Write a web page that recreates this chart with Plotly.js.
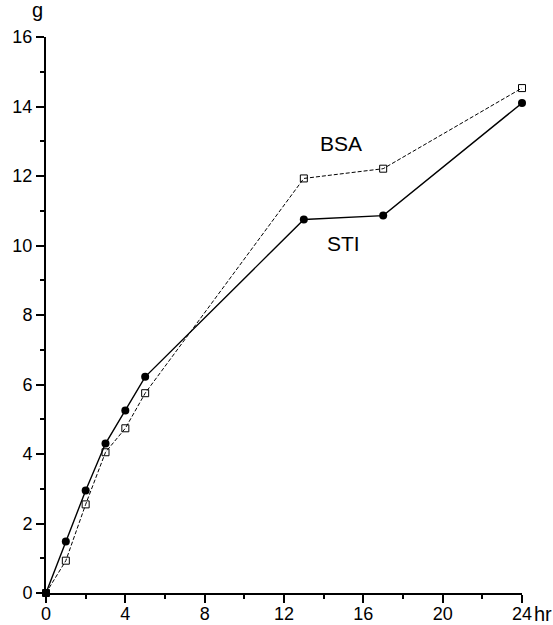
<!DOCTYPE html>
<html><head><meta charset="utf-8">
<script src="https://cdn.plot.ly/plotly-3.0.1.min.js"></script>
<style>html,body{margin:0;padding:0;background:#fff}#c{width:553px;height:625px}</style>
</head><body><div id="c"></div>
<script>
const hours = [0, 1, 2, 3, 4, 5, 13, 17, 24];
const sti = [0, 1.48, 2.95, 4.3, 5.25, 6.22, 10.75, 10.86, 14.1];
const bsa = [0, 0.93, 2.55, 4.05, 4.74, 5.75, 11.93, 12.21, 14.53];
const seriesNames = ['STI', 'BSA'];
const font = 'Liberation Sans, Arial, sans-serif';

const traces = [
  {x: hours, y: bsa, name: seriesNames[1], mode: 'lines+markers', cliponaxis: false,
   line: {color: '#000', width: 1, dash: '4px,2px'},
   marker: {symbol: 'square-open', size: 7, color: '#000', line: {width: 1}}},
  {x: hours, y: sti, name: seriesNames[0], mode: 'lines+markers', cliponaxis: false,
   line: {color: '#000', width: 1.4},
   marker: {symbol: 'circle', size: 8, color: '#000'}}
];

const axisCommon = {
  showgrid: false, zeroline: false, showline: true, linecolor: '#000', linewidth: 2,
  ticks: 'outside', ticklen: 8, tickwidth: 2, tickcolor: '#000',
  tickfont: {family: font, size: 18, color: '#000'}
};

const layout = {
  width: 553, height: 625,
  margin: {l: 46, r: 31, t: 37, b: 32},
  paper_bgcolor: '#fff', plot_bgcolor: '#fff',
  showlegend: false,
  font: {family: font, color: '#000'},
  xaxis: Object.assign({}, axisCommon, {range: [0, 24], tickmode: 'linear', tick0: 0, dtick: 4,
    ticklabelstandoff: -5,
    minor: {dtick: 2, ticks: 'outside', ticklen: 4, tickwidth: 2, tickcolor: '#000'}}),
  yaxis: Object.assign({}, axisCommon, {range: [0, 16], tickmode: 'linear', tick0: 0, dtick: 2,
    minor: {dtick: 1, ticks: 'outside', ticklen: 4, tickwidth: 2, tickcolor: '#000'}}),
  annotations: [
    {text: 'BSA', x: 14.87, y: 12.93, xref: 'x', yref: 'y', xanchor: 'center', yanchor: 'middle', showarrow: false, font: {family: font, size: 21, color: '#000'}},
    {text: 'STI', x: 15.0, y: 10.05, xref: 'x', yref: 'y', xanchor: 'center', yanchor: 'middle', showarrow: false, font: {family: font, size: 21, color: '#000'}},
    {text: 'g', x: (37 - 46) / 476, y: 1 + (37 - 10) / 556, xref: 'paper', yref: 'paper', xanchor: 'center', yanchor: 'middle', showarrow: false, font: {family: font, size: 20, color: '#000'}},
    {text: 'hr', x: (543 - 46) / 476, y: (593 - 614) / 556, xref: 'paper', yref: 'paper', xanchor: 'center', yanchor: 'middle', showarrow: false, font: {family: font, size: 20, color: '#000'}}
  ]
};
Plotly.newPlot('c', traces, layout, {displayModeBar: false, staticPlot: true});
</script></body></html>
